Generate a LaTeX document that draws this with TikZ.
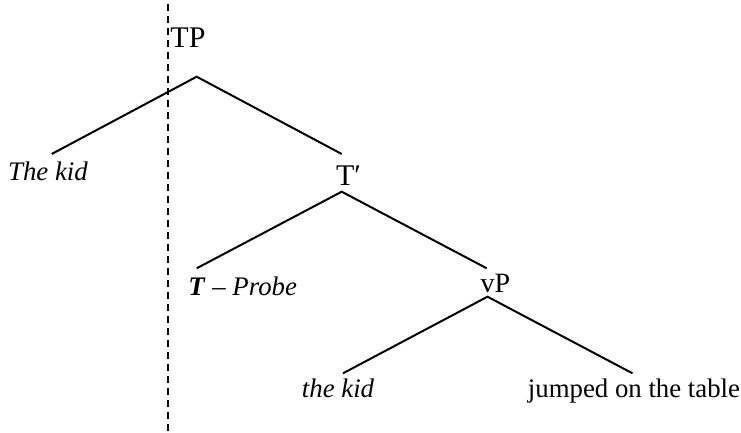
\documentclass[tikz,border=0pt]{standalone}
\usepackage{fontspec}
\setmainfont{Liberation Serif}
\begin{document}
\begin{tikzpicture}[x=0.5pt,y=-0.5pt,
  cat/.style={font=\fontsize{15}{18}\selectfont, inner sep=0pt, anchor=base},
  leaf/.style={font=\fontsize{13.4}{16}\selectfont, inner sep=0pt, anchor=base},
  branch/.style={line width=1pt}]
  \useasboundingbox (0,0) rectangle (741,433);
  % labels
  \node[cat] (TP) at (188,48) {TP};
  \node[leaf] (kid) at (48,181) {\itshape The kid};
  \node[cat] (Tbar) at (348.5,186) {T′};
  \node[leaf, anchor=base west] (probe) at (188,296) {\textbf{\textit{T}} \textit{– Probe}};
  \node[cat, font=\fontsize{14}{17}\selectfont] (vP) at (495.5,293) {vP};
  \node[leaf] (kid2) at (338,398) {\itshape the kid};
  \node[leaf] (jumped) at (634,398) {jumped on the table};
  % fork points and branch ends
  \coordinate (TP-fork) at (196.7,76.7);
  \coordinate (kid-top) at (51.7,154);
  \coordinate (Tbar-top) at (341.7,154);
  \coordinate (Tbar-fork) at (341.7,191.7);
  \coordinate (probe-top) at (196.7,268.3);
  \coordinate (vP-top) at (486.7,268.3);
  \coordinate (vP-fork) at (487.5,296.7);
  \coordinate (kid2-top) at (343,373.3);
  \coordinate (jumped-top) at (632.5,373.3);
  \draw[branch] (kid-top) -- (TP-fork) -- (Tbar-top);
  \draw[branch] (probe-top) -- (Tbar-fork) -- (vP-top);
  \draw[branch] (kid2-top) -- (vP-fork) -- (jumped-top);
  % the cut
  \coordinate (cut-top) at (168,4);
  \coordinate (cut-bot) at (168,432);
  \draw[line width=0.6pt, dash pattern=on 3.5pt off 2.5pt] (cut-top) -- (cut-bot);
\end{tikzpicture}
\end{document}
